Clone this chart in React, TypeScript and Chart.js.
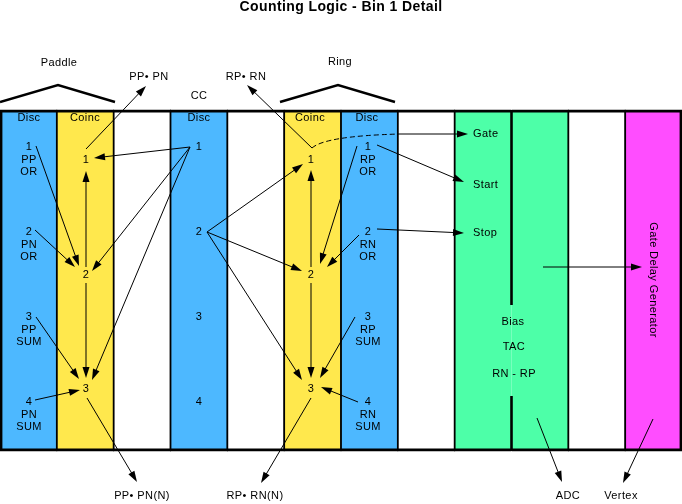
import React, { useEffect, useRef } from "react";
import { Chart, registerables } from "chart.js";

Chart.register(...registerables);

// ---- Panel columns -------------------------------------------------------
const COLUMNS = [
  "Paddle Disc", "Paddle Coinc", "Gap A", "CC Disc", "Gap B", "Ring Coinc",
  "Ring Disc", "Gap C", "TAC left", "TAC right", "Gap D", "Gate Delay Generator",
];
const COLUMN_COLORS = [
  "#4db8ff", "#ffe84d", "#ffffff", "#4db8ff", "#ffffff", "#ffe84d",
  "#4db8ff", "#ffffff", "#4dffa8", "#4dffa8", "#ffffff", "#ff4dff",
];
const PANEL_BOTTOM = 451;
const PANEL_TOP = 110;

// ---- Texts (diagram units) -----------------------------------------------
const TITLE = "Counting Logic - Bin 1 Detail";
const TOP_LABELS: [string, number, number][] = [
  ["Paddle", 59, 63],
  ["Ring", 340, 62],
  ["PP\u2022 PN", 149, 77],
  ["RP\u2022 RN", 246, 77],
  ["CC", 199, 96],
];
const HEADERS: [string, number, number][] = [
  ["Disc", 29, 118],
  ["Coinc", 85, 118],
  ["Disc", 199, 118],
  ["Coinc", 310, 118],
  ["Disc", 367, 118],
];
const DISC_ROWS = [147, 232, 317, 402];
const COINC_ROWS = [160, 275, 389];
const PADDLE_DISC = [["1", "PP", "OR"], ["2", "PN", "OR"], ["3", "PP", "SUM"], ["4", "PN", "SUM"]];
const RING_DISC = [["1", "RP", "OR"], ["2", "RN", "OR"], ["3", "RP", "SUM"], ["4", "RN", "SUM"]];
const CC_DISC = ["1", "2", "3", "4"];
const COINC_NODES = ["1", "2", "3"];
const PADDLE_DISC_X = 29;
const RING_DISC_X = 368;
const CC_X = 199;
const PADDLE_COINC_X = 86;
const RING_COINC_X = 311;
const TAC_LEFT_LABELS: [string, number, number][] = [
  ["Gate", 473, 134],
  ["Start", 473, 185],
  ["Stop", 473, 233],
];
const TAC_CENTER_LABELS: [string, number, number][] = [
  ["Bias", 513, 322],
  ["TAC", 514, 347],
  ["RN - RP", 514, 374],
];
const GDG_LABEL: [string, number, number] = ["Gate Delay Generator", 653, 280];
const BOTTOM_LABELS: [string, number, number][] = [
  ["PP\u2022 PN(N)", 142, 496],
  ["RP\u2022 RN(N)", 255, 496],
  ["ADC", 568, 496],
  ["Vertex", 621, 496],
];

// ---- Lines ----------------------------------------------------------------
const BRACKETS: number[][] = [
  [0, 102, 58, 85, 115, 102],
  [280, 102, 338, 85, 395, 102],
];
const TAC_DIVIDER: number[][] = [
  [511.5, 110, 305],
  [511.5, 396, 451],
];
// [fromX, fromY, tipX, tipY]
const ARROWS: number[][] = [
  // paddle
  [86, 149, 146, 86],
  [36, 146, 79, 266],
  [35, 230, 75, 267],
  [86, 267, 86, 171],
  [86, 283, 86, 378],
  [190, 147, 94, 158],
  [190, 147, 92, 271],
  [190, 147, 92, 380],
  [36, 317, 79, 379],
  [35, 400, 80, 390],
  [87, 398, 137, 482],
  // ring
  [312, 148, 247, 85],
  [377, 145, 464, 182],
  [377, 229, 464, 233],
  [357, 146, 320, 264],
  [359, 235, 327, 267],
  [355, 317, 320, 378],
  [358, 402, 321, 387],
  [311, 267, 311, 170],
  [311, 283, 311, 378],
  [207, 232, 303, 164],
  [207, 232, 302, 271],
  [207, 232, 302, 380],
  [311, 398, 261, 483],
  // gate / TAC / GDG
  [400, 134, 468, 134],
  [543, 267, 642, 267],
  [537, 418, 562, 482],
  [653, 419, 623, 483],
];
// dashed curve [startX, startY, ctrlX, ctrlY, endX, endY]
const DASHED_CURVE = [312, 148, 325, 136, 400, 134];

const FONT = "'Liberation Sans', Arial, Helvetica, sans-serif";

const diagramPlugin = {
  id: "diagram",
  afterDatasetsDraw(chart: any) {
    const ctx: CanvasRenderingContext2D = chart.ctx;
    const X = (v: number) => chart.scales.xd.getPixelForValue(v);
    const Y = (v: number) => chart.scales.y.getPixelForValue(v);
    ctx.save();
    ctx.strokeStyle = "#000";
    ctx.fillStyle = "#000";
    ctx.lineCap = "butt";

    // TAC divider
    ctx.lineWidth = 2.6;
    for (const [x, y1, y2] of TAC_DIVIDER) {
      ctx.beginPath();
      ctx.moveTo(X(x), Y(y1));
      ctx.lineTo(X(x), Y(y2));
      ctx.stroke();
    }

    // brackets
    ctx.lineWidth = 2.4;
    for (const b of BRACKETS) {
      ctx.beginPath();
      ctx.moveTo(X(b[0]), Y(b[1]));
      ctx.lineTo(X(b[2]), Y(b[3]));
      ctx.lineTo(X(b[4]), Y(b[5]));
      ctx.stroke();
    }

    // arrows
    ctx.lineWidth = 1;
    const headLen = 11;
    const headHalf = 3.5;
    for (const [x1, y1, x2, y2] of ARROWS) {
      const px1 = X(x1), py1 = Y(y1), px2 = X(x2), py2 = Y(y2);
      const dx = px2 - px1, dy = py2 - py1;
      const len = Math.hypot(dx, dy);
      const ux = dx / len, uy = dy / len;
      ctx.beginPath();
      ctx.moveTo(px1, py1);
      ctx.lineTo(px2 - ux * headLen * 0.6, py2 - uy * headLen * 0.6);
      ctx.stroke();
      const bx = px2 - ux * headLen, by = py2 - uy * headLen;
      ctx.beginPath();
      ctx.moveTo(px2, py2);
      ctx.lineTo(bx - uy * headHalf, by + ux * headHalf);
      ctx.lineTo(bx + uy * headHalf, by - ux * headHalf);
      ctx.closePath();
      ctx.fill();
    }

    // dashed curve
    ctx.setLineDash([5, 3]);
    ctx.beginPath();
    ctx.moveTo(X(DASHED_CURVE[0]), Y(DASHED_CURVE[1]));
    ctx.quadraticCurveTo(
      X(DASHED_CURVE[2]), Y(DASHED_CURVE[3]),
      X(DASHED_CURVE[4]), Y(DASHED_CURVE[5])
    );
    ctx.stroke();
    ctx.setLineDash([]);

    // texts
    const anyCtx = ctx as any;
    ctx.textBaseline = "middle";
    ctx.textAlign = "center";
    ctx.font = `bold 14px ${FONT}`;
    anyCtx.letterSpacing = "0.4px";
    ctx.fillText(TITLE, X(341), Y(7));

    ctx.font = `11px ${FONT}`;
    anyCtx.letterSpacing = "0.4px";
    const put = (t: string, x: number, y: number) => ctx.fillText(t, X(x), Y(y));
    for (const [t, x, y] of TOP_LABELS) put(t, x, y);
    for (const [t, x, y] of HEADERS) put(t, x, y);
    PADDLE_DISC.forEach((stack, i) =>
      stack.forEach((t, j) => put(t, PADDLE_DISC_X, DISC_ROWS[i] + j * 12.7))
    );
    RING_DISC.forEach((stack, i) =>
      stack.forEach((t, j) => put(t, RING_DISC_X, DISC_ROWS[i] + j * 12.7))
    );
    CC_DISC.forEach((t, i) => put(t, CC_X, DISC_ROWS[i]));
    COINC_NODES.forEach((t, i) => {
      put(t, PADDLE_COINC_X, COINC_ROWS[i]);
      put(t, RING_COINC_X, COINC_ROWS[i]);
    });
    for (const [t, x, y] of TAC_CENTER_LABELS) put(t, x, y);
    for (const [t, x, y] of BOTTOM_LABELS) put(t, x, y);
    ctx.textAlign = "left";
    for (const [t, x, y] of TAC_LEFT_LABELS) put(t, x, y);

    // vertical label
    ctx.save();
    ctx.translate(X(GDG_LABEL[1]), Y(GDG_LABEL[2]));
    ctx.rotate(Math.PI / 2);
    ctx.textAlign = "center";
    ctx.fillText(GDG_LABEL[0], 0, 0);
    ctx.restore();

    ctx.restore();
  },
};

export default function App() {
  const canvasRef = useRef<HTMLCanvasElement | null>(null);

  useEffect(() => {
    document.body.style.margin = "0";
    const canvas = canvasRef.current;
    if (!canvas) return;
    const last = COLUMNS.length - 1;
    const chart = new Chart(canvas, {
      type: "bar",
      data: {
        labels: COLUMNS,
        datasets: [
          {
            data: COLUMNS.map(() => [PANEL_BOTTOM, PANEL_TOP]) as any,
            backgroundColor: COLUMN_COLORS,
            borderColor: "#000",
            borderSkipped: false,
            borderWidth: (c: any) => {
              const i = c.dataIndex;
              return {
                top: 3,
                bottom: 3,
                left: i === 0 ? 3 : i === 9 ? 0 : 1.5,
                right: i === last ? 3 : i === 8 ? 0 : 1.5,
              };
            },
            barPercentage: 1,
            categoryPercentage: 1,
            inflateAmount: 0.6,
          } as any,
        ],
      },
      options: {
        responsive: false,
        animation: false,
        events: [],
        layout: { padding: 0 },
        plugins: {
          legend: { display: false },
          tooltip: { enabled: false },
          title: { display: false },
        },
        scales: {
          x: { type: "category", display: false, offset: true },
          xd: { type: "linear", axis: "x", display: false, offset: false, min: 0, max: 682 } as any,
          y: { type: "linear", display: false, reverse: true, min: 0, max: 504 },
        },
      },
      plugins: [diagramPlugin],
    });
    return () => chart.destroy();
  }, []);

  return (
    <div style={{ width: 682, height: 504, background: "#fff" }}>
      <canvas ref={canvasRef} width={682} height={504} style={{ display: "block" }} />
    </div>
  );
}
